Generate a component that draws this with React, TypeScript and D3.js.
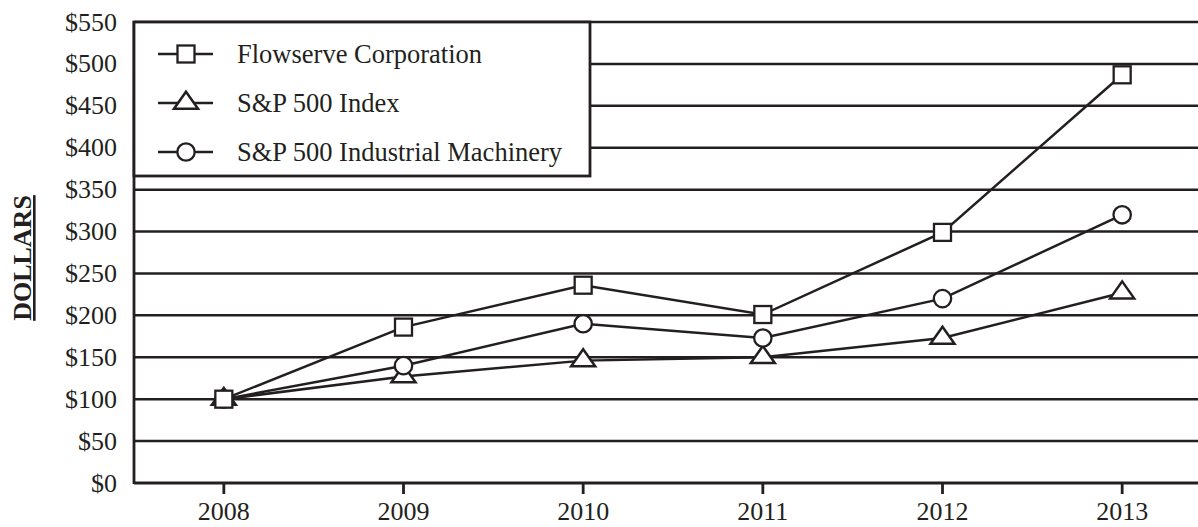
import React, { useEffect, useRef } from 'react';
import * as d3 from 'd3';

const years = [2008, 2009, 2010, 2011, 2012, 2013];
const flowserve = [100, 186, 236, 201, 299, 487];
const sp500 = [100, 127, 146, 150, 173, 227];
const machinery = [100, 140, 190, 173, 220, 320];
const yTicks = [0, 50, 100, 150, 200, 250, 300, 350, 400, 450, 500, 550];

const seriesNames = ['Flowserve Corporation', 'S&P 500 Index', 'S&P 500 Industrial Machinery'];
const seriesShapes = ['square', 'triangle', 'circle'];

const INK = '#231f20';
const FONT = '"Liberation Serif", "Times New Roman", serif';

const drawMarker = (g: any, shape: string, x: number, y: number) => {
  if (shape === 'square') {
    g.append('rect')
      .attr('x', x - 8.5).attr('y', y - 8.5)
      .attr('width', 17).attr('height', 17)
      .attr('fill', '#fff').attr('stroke', INK).attr('stroke-width', 2.3);
  } else if (shape === 'circle') {
    g.append('circle')
      .attr('cx', x).attr('cy', y).attr('r', 8.7)
      .attr('fill', '#fff').attr('stroke', INK).attr('stroke-width', 2.3);
  } else {
    // triangle centred on its centroid
    const h = 17, w = 24;
    g.append('path')
      .attr('d', `M${x},${y - (2 * h) / 3}L${x + w / 2},${y + h / 3}L${x - w / 2},${y + h / 3}Z`)
      .attr('fill', '#fff').attr('stroke', INK).attr('stroke-width', 2.5)
      .attr('stroke-linejoin', 'miter');
  }
};

const Chart = () => {
  const svgRef = useRef<SVGSVGElement>(null);

  useEffect(() => {
    const svg = d3.select(svgRef.current);
    svg.selectAll('*').remove();

    const width = 1198;
    const height = 527;
    const left = 134;
    const top = 22;
    const bottom = 483;

    const x = d3.scaleLinear().domain([2007.5, 2013.5]).range([left, 1212]);
    const y = d3.scaleLinear().domain([0, 550]).range([bottom, top]);

    svg.attr('width', width).attr('height', height);

    // gridlines
    svg.append('g')
      .selectAll('line')
      .data(yTicks.filter(d => d > 0))
      .join('line')
      .attr('x1', left).attr('x2', width)
      .attr('y1', d => y(d)).attr('y2', d => y(d))
      .attr('stroke', INK).attr('stroke-width', 2.5);

    // y labels
    svg.append('g')
      .selectAll('text')
      .data(yTicks)
      .join('text')
      .attr('x', 117)
      .attr('y', d => y(d))
      .attr('dy', '0.33em')
      .attr('text-anchor', 'end')
      .style('font-family', FONT)
      .style('font-size', '26px')
      .attr('fill', INK)
      .text(d => `$${d}`);

    // axes
    svg.append('line')
      .attr('x1', left).attr('x2', left).attr('y1', top - 1).attr('y2', bottom + 1)
      .attr('stroke', INK).attr('stroke-width', 2.8);
    svg.append('line')
      .attr('x1', left).attr('x2', width).attr('y1', bottom).attr('y2', bottom)
      .attr('stroke', INK).attr('stroke-width', 2.8);

    const xAxis = svg.append('g');
    xAxis.selectAll('line')
      .data(years)
      .join('line')
      .attr('x1', d => x(d)).attr('x2', d => x(d))
      .attr('y1', bottom).attr('y2', bottom + 11)
      .attr('stroke', INK).attr('stroke-width', 2.8);
    xAxis.selectAll('text')
      .data(years)
      .join('text')
      .attr('x', d => x(d))
      .attr('y', 520)
      .attr('text-anchor', 'middle')
      .style('font-family', FONT)
      .style('font-size', '26px')
      .attr('fill', INK)
      .text(d => d);

    // y axis title
    svg.append('text')
      .attr('transform', 'translate(31, 258) rotate(-90)')
      .attr('text-anchor', 'middle')
      .style('font-family', FONT)
      .style('font-size', '26px')
      .style('font-weight', 'bold')
      .style('text-decoration', 'underline')
      .attr('fill', INK)
      .text('DOLLARS');

    // legend
    const legend = svg.append('g');
    legend.append('rect')
      .attr('x', left).attr('y', top)
      .attr('width', 590 - left).attr('height', 176 - top)
      .attr('fill', '#fff').attr('stroke', INK).attr('stroke-width', 2.8);

    seriesNames.forEach((name, i) => {
      const cy = 54 + i * 49;
      legend.append('line')
        .attr('x1', 158).attr('x2', 213)
        .attr('y1', cy).attr('y2', cy)
        .attr('stroke', INK).attr('stroke-width', 2.5);
      drawMarker(legend, seriesShapes[i], 186, cy);
      legend.append('text')
        .attr('x', 237).attr('y', cy + 9)
        .style('font-family', FONT)
        .style('font-size', '26.5px')
        .attr('fill', INK)
        .text(name);
    });

    // series
    const allSeries = [flowserve, sp500, machinery];
    const line = d3.line<number>()
      .x((_, i) => x(years[i]))
      .y(d => y(d));

    const plot = svg.append('g');
    allSeries.forEach(values => {
      plot.append('path')
        .attr('d', line(values))
        .attr('fill', 'none')
        .attr('stroke', INK)
        .attr('stroke-width', 2.5);
    });
    [1, 2, 0].forEach(si => {
      allSeries[si].forEach((v, i) => {
        drawMarker(plot, seriesShapes[si], x(years[i]), y(v));
      });
    });
  }, []);

  return <svg ref={svgRef} style={{ position: 'absolute', left: 0, top: 0 }}></svg>;
};

export default function App() {
  return <Chart />;
}
